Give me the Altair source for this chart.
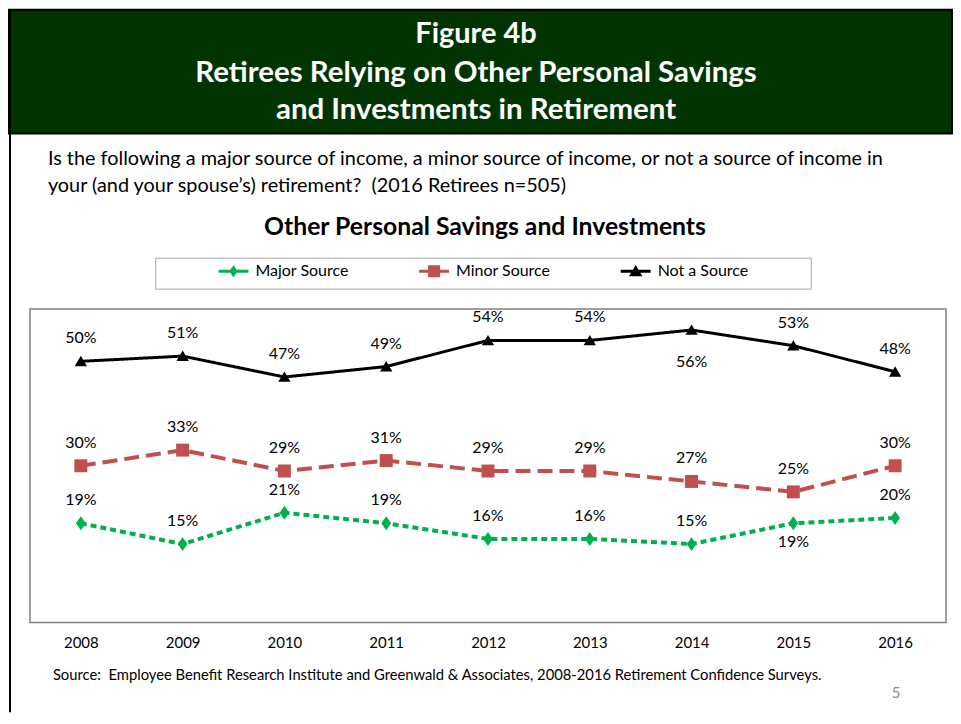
import altair as alt
import pandas as pd

# ---------------- data ----------------
years = ["2008", "2009", "2010", "2011", "2012", "2013", "2014", "2015", "2016"]
major = [19, 15, 21, 19, 16, 16, 15, 19, 20]
minor = [30, 33, 29, 31, 29, 29, 27, 25, 30]
not_src = [50, 51, 47, 49, 54, 54, 56, 53, 48]
series_names = ["Major Source", "Minor Source", "Not a Source"]
series_values = [major, minor, not_src]

title_lines = ["Figure 4b", "Retirees Relying on Other Personal Savings", "and Investments in Retirement"]
question_lines = [
    "Is the following a major source of income, a minor source of income, or not a source of income in",
    "your (and your spouse\u2019s) retirement?\u00a0\u00a0(2016 Retirees n=505)",
]
chart_title = "Other Personal Savings and Investments"
source_text = "Source:\u00a0\u00a0Employee Benefit Research Institute and Greenwald & Associates, 2008-2016 Retirement Confidence Surveys."
page_number = "5"

# labels drawn below their point (per series)
labels_below = {"Not a Source": ["2014"], "Major Source": ["2015"]}

rows = []
for name, vals in zip(series_names, series_values):
    for yr, v in zip(years, vals):
        rows.append({"year": yr, "series": name, "value": v, "label": f"{v}%"})
df = pd.DataFrame(rows)

# ---------------- styles ----------------
FONT = "Lato"
colors = {"Major Source": "#00B050", "Minor Source": "#C0504D", "Not a Source": "#000000"}
dashes = {"Major Source": [6, 4], "Minor Source": [15, 7], "Not a Source": [1, 0]}
widths = {"Major Source": 4, "Minor Source": 4, "Not a Source": 3}
markers = {
    "Major Source": ("M0,-1L0.7,0L0,1L-0.7,0Z", 196),
    "Minor Source": ("square", 169),
    "Not a Source": ("M0,-0.85L0.95,0.75L-0.95,0.75Z", 169),
}
below_dy = {"Not a Source": 32, "Major Source": 19, "Minor Source": 24}
bar = "M-1,-0.1H1V0.1H-1Z"
legend_paths = [
    bar + "M0,-0.4L0.28,0L0,0.4L-0.28,0Z",
    bar + "M-0.4,-0.4H0.4V0.4H-0.4Z",
    bar + "M0,-0.42L0.45,0.33L-0.45,0.33Z",
]

base = alt.Chart(df).encode(
    x=alt.X("year:O", scale=alt.Scale(type="point", padding=0.5),
            axis=alt.Axis(title=None, labelAngle=0, domain=False, ticks=False, grid=False,
                          labelFont=FONT, labelFontSize=15, labelColor="#000", labelPadding=13)),
    y=alt.Y("value:Q", scale=alt.Scale(domain=[0, 60], nice=False, zero=True), axis=None),
)

layers = []


def one(text):
    return pd.DataFrame({"t": [text]})


def deco_text(text, x, y, size, color="#000", weight="normal", align="left"):
    return alt.Chart(one(text)).mark_text(
        font=FONT, fontSize=size, fontWeight=weight, color=color, align=align, baseline="middle"
    ).encode(x=alt.value(x), y=alt.value(y), text="t:N")


# header
layers.append(alt.Chart(one("h")).mark_rect(fill="#023402", stroke="#000", strokeWidth=2).encode(
    x=alt.value(-21), x2=alt.value(924), y=alt.value(-300), y2=alt.value(-176)))
layers.append(alt.Chart(one("b")).mark_rule(color="#000", strokeWidth=2).encode(
    x=alt.value(-20), y=alt.value(-300), y2=alt.value(404)))
for line, yy, fs in zip(title_lines, [-276, -237, -200], [29, 29.5, 29.5]):
    layers.append(deco_text(line, 447, yy, fs, color="white", weight="bold", align="center"))
for line, yy in zip(question_lines, [-150, -123]):
    layers.append(deco_text(line, 18, yy, 19.9))
layers.append(deco_text(chart_title, 456, -81, 24.8, weight="bold", align="center"))
layers.append(deco_text(source_text, 23, 368, 14.8))
layers.append(deco_text(page_number, 868, 385, 15, color="#8c8c8c", align="center"))

# legend box
layers.append(alt.Chart(one("l")).mark_rect(fill="white", stroke="#A6A6A6", strokeWidth=1).encode(
    x=alt.value(126), x2=alt.value(783), y=alt.value(-51), y2=alt.value(-20)))

# series
for name in series_names:
    s = base.transform_filter(alt.datum.series == name)
    layers.append(s.mark_line(color=colors[name], strokeWidth=widths[name], strokeDash=dashes[name]))
for name in series_names:
    s = base.transform_filter(alt.datum.series == name)
    shape, size = markers[name]
    layers.append(s.mark_point(shape=shape, size=size, filled=True, color=colors[name], opacity=1, strokeWidth=0))
for name in series_names:
    s = base.transform_filter(alt.datum.series == name)
    below = labels_below.get(name, [])
    above_layer = s.transform_filter(
        alt.LogicalNotPredicate(**{"not": alt.FieldOneOfPredicate(field="year", oneOf=below or ["none"])})
    ).mark_text(font=FONT, fontSize=16, color="#000", dy=-23).encode(text="label:N")
    layers.append(above_layer)
    if below:
        layers.append(s.transform_filter(alt.FieldOneOfPredicate(field="year", oneOf=below)).mark_text(
            font=FONT, fontSize=16, color="#000", dy=below_dy[name]).encode(text="label:N"))

# legend layer (invisible marks, visible legend)
leg = alt.Legend(orient="none", legendX=189, legendY=-53, direction="horizontal", title=None,
                 labelFont=FONT, labelFontSize=16, labelColor="#000", symbolSize=900,
                 symbolStrokeWidth=0, symbolOpacity=1, labelOffset=7, columnPadding=70, padding=0)
legend_df = pd.DataFrame({"series": series_names})
layers.append(alt.Chart(legend_df).mark_point(filled=True, opacity=0).encode(
    color=alt.Color("series:N", scale=alt.Scale(domain=series_names, range=[colors[n] for n in series_names]), legend=leg),
    shape=alt.Shape("series:N", scale=alt.Scale(domain=series_names, range=legend_paths), legend=leg),
))

chart = alt.layer(*layers).properties(
    width=918, height=314, padding=0, background="white"
).configure_view(fill="#EEEBE0", stroke="#808080", strokeWidth=1.5)

chart.save("out.html", embed_options={"renderer": "svg", "actions": False})
